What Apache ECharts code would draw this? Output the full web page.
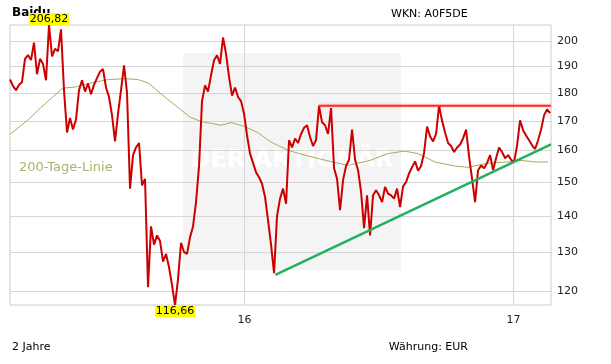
<!DOCTYPE html>
<html>
<head>
<meta charset="utf-8">
<script src="https://cdn.jsdelivr.net/npm/echarts@6/dist/echarts.min.js"></script>
<style>html,body{margin:0;padding:0;background:#fff}#c{width:611px;height:364px}</style>
</head>
<body>
<div id="c"></div>
<script>
// ---- data ----
const startDate = '2015-02-16';
const endDate = '2017-02-21';
const stepDays = 4.082; // spacing between samples (calendar days)
const prices = [
  185, 182.5, 181, 183, 184, 193, 194.5, 192.5, 199.5, 187,
  193, 191, 184.7, 206.82, 194, 197, 196, 205, 181, 166,
  171, 167, 170.5, 181, 184.7, 180.5, 183.5, 179.5, 183, 185.5,
  188, 189, 182, 178.5, 172, 163, 172.5, 181, 190.4, 180,
  148, 158.5, 161, 162.5, 149, 151, 121, 137, 132, 134.5,
  133, 127.5, 129.5, 126, 121.5, 116.66, 123, 132.5, 130, 129.5,
  134, 137, 144, 155, 177, 182.8, 180.5, 186.6, 192.4, 194.4,
  191, 201.6, 195, 186, 179, 182, 178.5, 177, 172.5, 165,
  159, 156, 153, 151.5, 149.5, 145.5, 138.7, 132, 124.5, 140,
  145, 148, 143.5, 163.4, 161, 164, 162.5, 165.5, 167.6, 168.5,
  164.5, 161.5, 163.5, 175.3, 169.5, 168.5, 165.5, 174.5, 154.3, 151,
  141.6, 150.6, 155, 157, 167, 157, 153.7, 147, 136.5, 146,
  134.5, 146, 147.5, 146, 144, 148.5, 146.5, 146, 145, 148,
  142.5, 148.7, 150, 152.7, 154.6, 156.5, 153.5, 155, 159.2, 168,
  164.7, 163, 165.5, 175.4, 170, 166, 162.5, 161.5, 159.5, 161,
  162, 164, 167, 158, 151, 144, 153.7, 155.2, 154.3, 156,
  158.5, 153.7, 157.5, 161, 159.5, 157.5, 158.5, 157, 156.2, 161.7,
  170.2, 166.8, 165, 163.4, 161.7, 160.5, 163.4, 167, 172, 174,
  172.7
];
const maDates = ['2015-02-16','2015-03-12','2015-03-30','2015-04-29','2015-05-16','2015-06-06','2015-06-30','2015-07-23','2015-08-09','2015-08-23','2015-09-15','2015-10-19','2015-11-03','2015-11-30','2015-12-14','2016-01-02','2016-01-19','2016-02-06','2016-02-29','2016-03-23','2016-04-14','2016-05-07','2016-05-21','2016-06-03','2016-06-20','2016-07-14','2016-08-06','2016-08-24','2016-09-16','2016-10-13','2016-10-31','2016-11-27','2016-12-24','2017-01-11','2017-01-30','2017-02-17'];
const maValues = [165.4, 170.2, 174.7, 181.8, 182.2, 183.7, 185, 185.3, 185, 183.7, 178.4, 171.3, 169.8, 168.5, 169.4, 168, 166, 162.8, 160.1, 158.5, 157.2, 155.9, 155.2, 155.9, 156.8, 159, 159.8, 159, 156.3, 155, 154.6, 155.9, 156.3, 156.8, 156.3, 156.3];
const resDates = ['2016-04-11', '2017-02-21'];
const resValues = [175.3, 175.3];
const supDates = ['2016-02-12', '2017-02-21'];
const supValues = [124.1, 162];
const yTicks = [120, 130, 140, 150, 160, 170, 180, 190, 200];
const yearDates = ['2016-01-01', '2017-01-01'];
const yearLabels = ['16', '17'];

// ---- build ----
function d(s){ const p = s.split('-').map(Number); return Date.UTC(p[0], p[1]-1, p[2]); }
const DAY = 86400000;
const t0 = d(startDate);
const priceData = prices.map((v, i) => [t0 + i * stepDays * DAY, v]);
const maData = maDates.map((s, i) => [d(s), maValues[i]]);
const resData = resDates.map((s, i) => [d(s), resValues[i]]);
const supData = supDates.map((s, i) => [d(s), supValues[i]]);
const FONT = 'DejaVu Sans';
const fmt = v => v.toFixed(2).replace('.', ',');

const gridLines = yTicks.map(v => ({
  yAxis: v,
  label: { show: true, position: 'end', distance: 6, formatter: String(v), color: '#222', fontSize: 11, fontFamily: FONT }
})).concat(yearDates.map((s, i) => ({
  xAxis: d(s),
  label: { show: true, position: 'start', distance: 10, formatter: yearLabels[i], color: '#222', fontSize: 11, fontFamily: FONT }
})));

const chart = echarts.init(document.getElementById('c'), null, { renderer: 'canvas' });
chart.setOption({
  animation: false,
  backgroundColor: '#fff',
  grid: { left: 10, right: 60, top: 25, bottom: 59, show: true, borderColor: '#cccccc', borderWidth: 1, backgroundColor: 'transparent' },
  xAxis: { type: 'time', min: t0, max: d(endDate), axisLabel: { show: false }, axisLine: { show: false }, axisTick: { show: false }, splitLine: { show: false } },
  yAxis: { type: 'log', logBase: 10, min: 116.66, max: 206.82, axisLabel: { show: false }, axisLine: { show: false }, axisTick: { show: false }, splitLine: { show: false } },
  graphic: [
    { type: 'rect', z: 0, shape: { x: 183, y: 53, width: 218, height: 217 }, style: { fill: '#f4f4f4' } },
    { type: 'text', z: 0, x: 292, y: 161, style: { text: 'DER AKTIONÄR', fill: '#ffffff', font: 'bold 24px ' + FONT, textAlign: 'center', textVerticalAlign: 'middle' } },
    { type: 'text', z: 10, x: 12, y: 7, style: { text: 'Baidu', fill: '#000', font: 'bold 12px ' + FONT } },
    { type: 'text', z: 10, x: 391, y: 9, style: { text: 'WKN: A0F5DE', fill: '#000', font: '11px ' + FONT } },
    { type: 'text', z: 10, x: 12, y: 342, style: { text: '2 Jahre', fill: '#000', font: '11px ' + FONT } },
    { type: 'text', z: 10, x: 468, y: 342, style: { text: 'Währung: EUR', fill: '#000', font: '11px ' + FONT, textAlign: 'right' } },
    { type: 'text', z: 10, x: 19, y: 161, style: { text: '200-Tage-Linie', fill: '#a8b46c', font: '13px ' + FONT } }
  ],
  series: [
    {
      type: 'line', data: [], z: 1, silent: true,
      markLine: { z: 1, silent: true, symbol: 'none', lineStyle: { color: '#d6d6d6', width: 1, type: 'solid' }, data: gridLines }
    },
    {
      type: 'line', data: maData, z: 2, showSymbol: false, silent: true,
      lineStyle: { color: '#a5ad5a', width: 1 }
    },
    {
      type: 'line', data: priceData, z: 3, showSymbol: false, silent: true,
      lineStyle: { color: '#cc0000', width: 2 },
      markPoint: {
        z: 10, symbol: 'rect', symbolSize: 0, silent: true,
        data: [
          { type: 'max', label: { position: 'top', distance: 0 } },
          { type: 'min', label: { position: 'bottom', distance: 0 } }
        ],
        label: { show: true, formatter: p => fmt(p.value), backgroundColor: '#ffff00', color: '#000', fontSize: 11, fontFamily: FONT, padding: [1, 1, 0, 1] }
      }
    },
    {
      type: 'line', data: resData, z: 4, showSymbol: false, silent: true,
      lineStyle: { color: '#ff2a2a', width: 2, shadowColor: 'rgba(255,0,0,0.35)', shadowBlur: 3 }
    },
    {
      type: 'line', data: supData, z: 4, showSymbol: false, silent: true,
      lineStyle: { color: '#22b060', width: 2.5 }
    }
  ]
});
</script>
</body>
</html>
